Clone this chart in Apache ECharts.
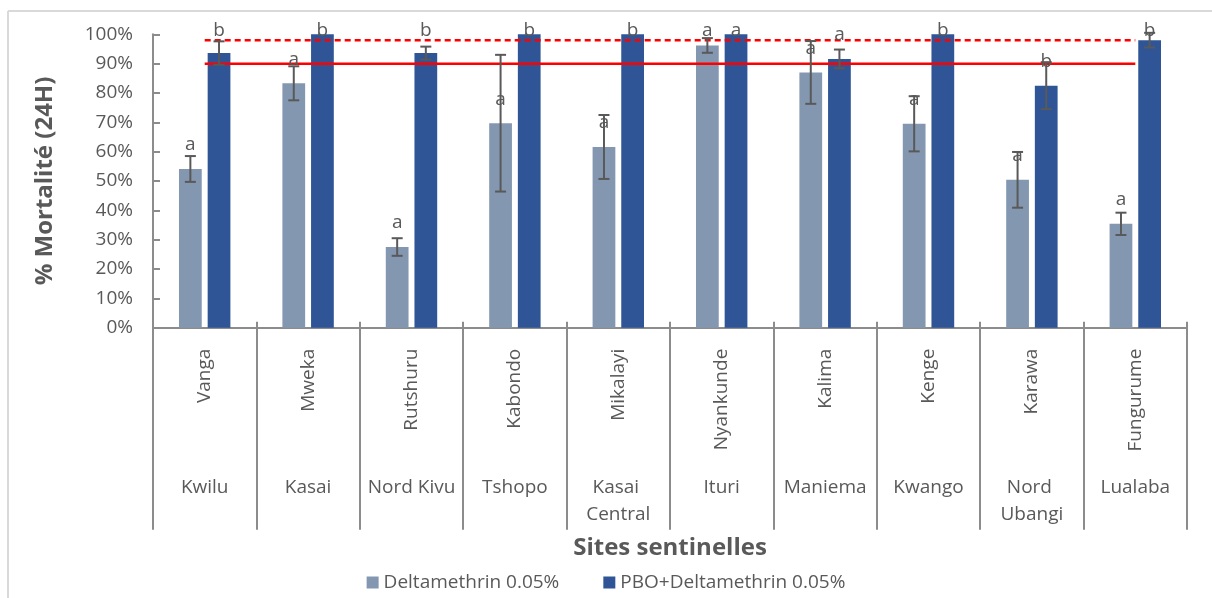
<!DOCTYPE html>
<html><head><meta charset="utf-8">
<script src="https://cdn.jsdelivr.net/npm/echarts@6/dist/echarts.min.js"></script>
<style>html,body{margin:0;padding:0;background:#fff}#c{width:1212px;height:598px}</style>
</head><body><div id="c"></div>
<script>
// ---- data ----
const sites = ['Vanga','Mweka','Rutshuru','Kabondo','Mikalayi','Nyankunde','Kalima','Kenge','Karawa','Fungurume'];
const provinces = ['Kwilu','Kasai','Nord Kivu','Tshopo','Kasai Central','Ituri','Maniema','Kwango','Nord Ubangi','Lualaba'];
const deltaValues = [54.1, 83.3, 27.5, 69.7, 61.6, 96.2, 87.0, 69.5, 50.4, 35.4];
const deltaErrors = [4.4, 5.8, 3.0, 23.3, 10.9, 2.5, 10.7, 9.4, 9.5, 3.8];
const deltaLetters = ['a','a','a','a','a','a','a','a','a','a'];
const pboValues = [93.6, 100, 93.6, 100, 100, 100, 91.6, 100, 82.5, 98.0];
const pboErrors = [4.0, 0, 2.2, 0, 0, 0, 3.2, 0, 8.0, 2.5];
const pboLetters = ['b','b','b','b','b','a','a','b','b','b'];
const threshold90 = [90, 90, 90, 90, 90, 90, 90, 90, 90, 90];
const threshold98 = [98, 98, 98, 98, 98, 98, 98, 98, 98, 98];
const seriesNames = ['Deltamethrin 0.05%', 'PBO+Deltamethrin 0.05%'];

// ---- style ----
const FONT = '"Open Sans", "Noto Sans", sans-serif';
const TXT = '#595959';
const AX = '#8c8c8c';
const BAR_W = 0.22, BAR_GAP = 0.26;

function errRender(values, errors, letters, side) {
  return function (params, api) {
    const i = api.value(0);
    const v = values[i], e = errors[i];
    const band = api.size([1, 0])[0];
    const off = side * band * BAR_W * (1 + BAR_GAP) / 2;
    const base = api.coord([i, v]);
    const x = base[0] + off;
    const children = [];
    if (e > 0) {
      const yT = api.coord([i, v + e])[1], yB = api.coord([i, v - e])[1];
      const ls = { stroke: '#595959', lineWidth: 2 };
      children.push({ type: 'line', shape: { x1: x, y1: yT, x2: x, y2: yB }, style: ls });
      children.push({ type: 'line', shape: { x1: x - 5.5, y1: yT, x2: x + 5.5, y2: yT }, style: ls });
      children.push({ type: 'line', shape: { x1: x - 5.5, y1: yB, x2: x + 5.5, y2: yB }, style: ls });
    }
    const topLimit = api.coord([i, 100])[1] - 4;
    const ly = Math.max(base[1] - 24, topLimit);
    children.push({ type: 'text', style: { text: letters[i], x: x, y: ly, align: 'center', verticalAlign: 'middle', fill: TXT, font: '19px ' + FONT } });
    return { type: 'group', children: children };
  };
}

const chart = echarts.init(document.getElementById('c'), null, { renderer: 'canvas' });
chart.setOption({
  animation: false,
  backgroundColor: '#fff',
  textStyle: { fontFamily: FONT },
  graphic: [
    { type: 'line', shape: { x1: 8, y1: 11, x2: 1212, y2: 11 }, style: { stroke: '#d9d9d9', lineWidth: 2 } },
    { type: 'line', shape: { x1: 8, y1: 11, x2: 8, y2: 598 }, style: { stroke: '#d9d9d9', lineWidth: 2 } }
  ],
  grid: { left: 153, right: 25, top: 34.3, bottom: 270.3, containLabel: false },
  legend: {
    data: seriesNames,
    top: 568, left: 'center',
    itemWidth: 12, itemHeight: 12, itemGap: 44,
    icon: 'rect',
    textStyle: { color: TXT, fontSize: 19, fontFamily: FONT }
  },
  xAxis: [
    {
      type: 'category', data: sites,
      axisLine: { lineStyle: { color: AX, width: 2 } },
      axisTick: { show: true, interval: 0, length: 202, lineStyle: { color: AX, width: 2 } },
      axisLabel: { interval: 0, rotate: 90, margin: 21, fontSize: 19, color: TXT, fontFamily: FONT }
    },
    {
      type: 'category', data: provinces, position: 'bottom',
      axisLine: { show: false },
      axisTick: { show: true, interval: 0, inside: true, length: 6, lineStyle: { color: AX, width: 2 } },
      axisLabel: { interval: 0, margin: 146, fontSize: 19, color: TXT, width: 100, overflow: 'break', lineHeight: 27, align: 'center', fontFamily: FONT },
      name: 'Sites sentinelles', nameLocation: 'middle', nameGap: 208,
      nameTextStyle: { fontSize: 24, fontWeight: 'bold', color: TXT, fontFamily: FONT }
    }
  ],
  yAxis: {
    type: 'value', min: 0, max: 100, interval: 10,
    axisLine: { show: true, lineStyle: { color: AX, width: 2 } },
    axisTick: { show: true, inside: true, length: 7, lineStyle: { color: AX, width: 2 } },
    splitLine: { show: false },
    axisLabel: { formatter: '{value}%', fontSize: 19, color: TXT, margin: 20, fontFamily: FONT },
    name: '% Mortalité (24H)', nameLocation: 'middle', nameRotate: 90, nameGap: 96,
    nameTextStyle: { fontSize: 24, fontWeight: 'bold', color: TXT, fontFamily: FONT }
  },
  series: [
    { name: seriesNames[0], type: 'bar', data: deltaValues, barWidth: (BAR_W * 100) + '%', barGap: (BAR_GAP * 100) + '%', itemStyle: { color: '#8497B0' }, z: 2 },
    { name: seriesNames[1], type: 'bar', data: pboValues, barWidth: (BAR_W * 100) + '%', barGap: (BAR_GAP * 100) + '%', itemStyle: { color: '#2F5597' }, z: 2 },
    { type: 'line', data: threshold90, symbol: 'none', lineStyle: { color: '#FF0000', width: 2.5 }, z: 4, silent: true },
    { type: 'line', data: threshold98, symbol: 'none', lineStyle: { color: '#FF0000', width: 2.5, type: [6, 4] }, z: 4, silent: true },
    { type: 'custom', data: sites.map((s, i) => [i, deltaValues[i]]), renderItem: errRender(deltaValues, deltaErrors, deltaLetters, -1), clip: false, z: 5, silent: true },
    { type: 'custom', data: sites.map((s, i) => [i, pboValues[i]]), renderItem: errRender(pboValues, pboErrors, pboLetters, 1), clip: false, z: 5, silent: true }
  ]
});
</script>
</body></html>
